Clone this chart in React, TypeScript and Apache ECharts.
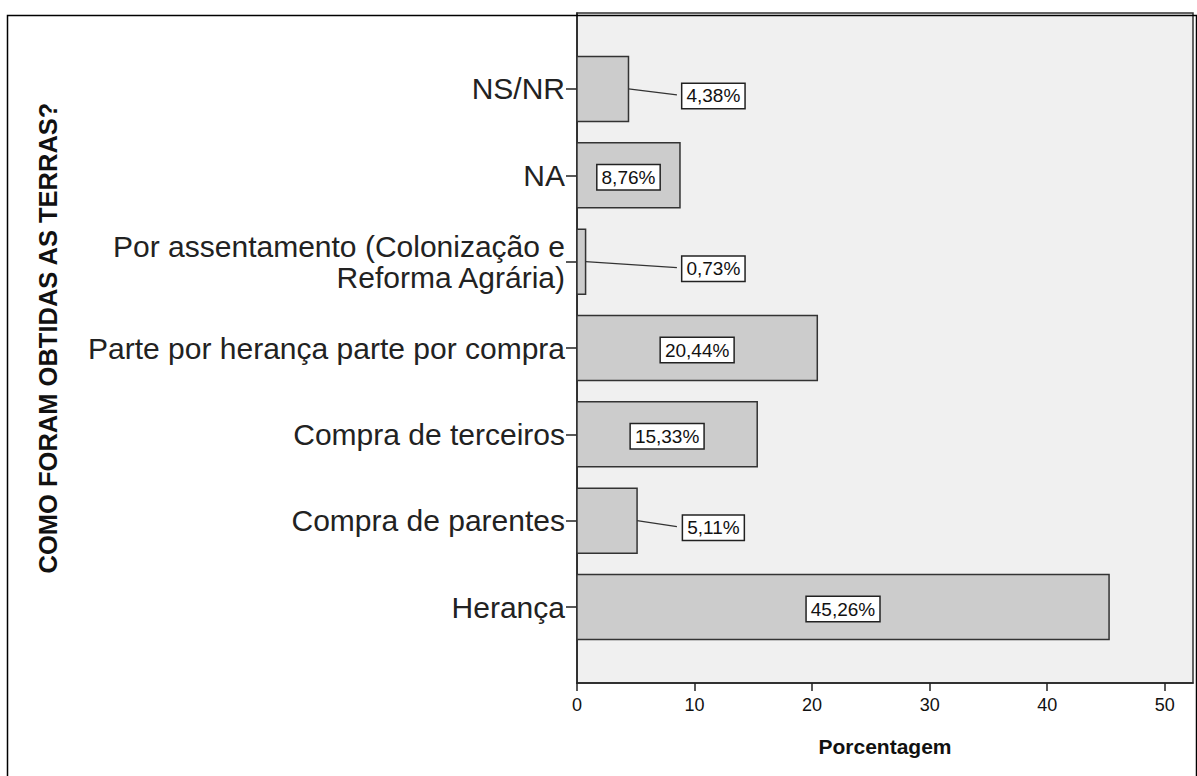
import React, { useEffect, useRef } from 'react';
import * as echarts from 'echarts';

const categories = [
  'Herança',
  'Compra de parentes',
  'Compra de terceiros',
  'Parte por herança parte por compra',
  'Por assentamento (Colonização e\nReforma Agrária)',
  'NA',
  'NS/NR',
];
const values = [45.26, 5.11, 15.33, 20.44, 0.73, 8.76, 4.38];
const xTicks = [0, 10, 20, 30, 40, 50];
const axisTitleY = 'COMO FORAM OBTIDAS AS TERRAS?';
const axisTitleX = 'Porcentagem';

const FONT = "'Liberation Sans', Arial, sans-serif";
const fmt = (v: number) => v.toFixed(2).replace('.', ',') + '%';

export default function App() {
  const ref = useRef<HTMLDivElement>(null);
  useEffect(() => {
    document.body.style.margin = '0';
    if (!ref.current) return;
    const chart = echarts.init(ref.current, undefined, { renderer: 'svg' });
    const catIdx = categories.map((_, i) => i);
    const option: any = {
      animation: false,
      backgroundColor: '#ffffff',
      graphic: [
        {
          type: 'rect',
          left: 5,
          top: 13,
          shape: { width: 1189, height: 800 },
          style: { fill: 'none', stroke: '#000', lineWidth: 1.5 },
          z: 100,
          silent: true,
        },
      ],
      grid: {
        left: 577,
        right: 4,
        top: 13,
        bottom: 93,
        show: true,
        backgroundColor: '#f0f0f0',
        borderColor: '#333',
        borderWidth: 1.5,
      },
      xAxis: {
        type: 'value',
        min: 0,
        max: 52.4,
        interval: 10,
        splitLine: { show: false },
        axisLine: { show: true, onZero: false, lineStyle: { color: '#222', width: 1.5 } },
        axisTick: { show: true, length: 8, lineStyle: { color: '#222', width: 1.5 }, customValues: xTicks },
        axisLabel: {
          customValues: xTicks,
          margin: 13,
          color: '#111',
          fontSize: 18,
          fontFamily: FONT,
        },
        name: axisTitleX,
        nameLocation: 'middle',
        nameGap: 53,
        nameTextStyle: { fontSize: 21, fontWeight: 'bold', color: '#111', fontFamily: FONT },
      },
      yAxis: {
        type: 'value',
        min: -0.88,
        max: 6.88,
        splitLine: { show: false },
        axisLine: { show: true, onZero: false, lineStyle: { color: '#222', width: 1.5 } },
        axisTick: { show: true, length: 11, lineStyle: { color: '#222', width: 1.5 }, customValues: catIdx },
        axisLabel: {
          customValues: catIdx,
          formatter: (v: number) => categories[Math.round(v)] ?? '',
          margin: 12,
          color: '#222',
          fontSize: 30,
          lineHeight: 31,
          fontFamily: FONT,
          align: 'right',
        },
        name: axisTitleY,
        nameLocation: 'middle',
        nameGap: 516,
        nameRotate: 90,
        nameTextStyle: {
          fontSize: 25.5,
          fontWeight: 'bold',
          color: '#111',
          fontFamily: FONT,
          padding: [0, 0, 0, 20],
        },
      },
      series: [
        {
          type: 'custom',
          clip: false,
          encode: { x: 1, y: 0 },
          data: values.map((v, i) => [i, v]),
          renderItem: (params: any, api: any) => {
            const idx = api.value(0);
            const val = api.value(1);
            const start = api.coord([0, idx]);
            const end = api.coord([val, idx]);
            const h = api.size([0, 0.753])[1];
            const cy = start[1];
            const children: any[] = [
              {
                type: 'rect',
                shape: { x: start[0], y: cy - h / 2, width: end[0] - start[0], height: h },
                style: { fill: '#cccccc', stroke: '#333', lineWidth: 1.5 },
              },
            ];
            const textStyle = {
              text: fmt(val),
              font: `19px ${FONT}`,
              fill: '#111',
              align: 'center',
              verticalAlign: 'middle',
              backgroundColor: '#ffffff',
              borderColor: '#222',
              borderWidth: 1.5,
              padding: [3, 4, 2, 4],
            };
            if (val < 8) {
              const lx = api.coord([11.6, idx])[0];
              const boxLeft = api.coord([8.5, idx])[0];
              children.push({
                type: 'line',
                shape: { x1: end[0], y1: cy, x2: boxLeft, y2: cy + 6 },
                style: { stroke: '#333', lineWidth: 1.3 },
              });
              children.push({ type: 'text', style: { ...textStyle, x: lx, y: cy + 7 } });
            } else {
              const mx = api.coord([val / 2, idx])[0];
              children.push({ type: 'text', style: { ...textStyle, x: mx, y: cy + 2 } });
            }
            return { type: 'group', children };
          },
        },
      ],
    };
    chart.setOption(option);
    return () => chart.dispose();
  }, []);
  return <div ref={ref} style={{ width: 1197, height: 776 }} />;
}
